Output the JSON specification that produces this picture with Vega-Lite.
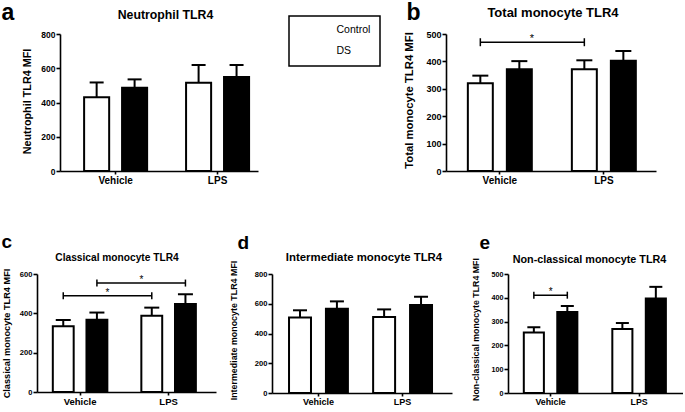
{
  "$schema": "https://vega.github.io/schema/vega-lite/v6.json",
  "background": "white",
  "padding": {"left": 1, "top": 1, "right": 0, "bottom": 0},
  "datasets": {
    "bars": [
      {"panel": "a", "treatment": "Vehicle", "group": "Control", "mean": 430, "upper": 517},
      {"panel": "a", "treatment": "Vehicle", "group": "DS", "mean": 486, "upper": 535},
      {"panel": "a", "treatment": "LPS", "group": "Control", "mean": 515, "upper": 619},
      {"panel": "a", "treatment": "LPS", "group": "DS", "mean": 549, "upper": 619},
      {"panel": "b", "treatment": "Vehicle", "group": "Control", "mean": 320, "upper": 348},
      {"panel": "b", "treatment": "Vehicle", "group": "DS", "mean": 371, "upper": 401},
      {"panel": "b", "treatment": "LPS", "group": "Control", "mean": 371, "upper": 404},
      {"panel": "b", "treatment": "LPS", "group": "DS", "mean": 402, "upper": 438},
      {"panel": "c", "treatment": "Vehicle", "group": "Control", "mean": 334, "upper": 366},
      {"panel": "c", "treatment": "Vehicle", "group": "DS", "mean": 368, "upper": 404},
      {"panel": "c", "treatment": "LPS", "group": "Control", "mean": 388, "upper": 429},
      {"panel": "c", "treatment": "LPS", "group": "DS", "mean": 448, "upper": 497},
      {"panel": "d", "treatment": "Vehicle", "group": "Control", "mean": 507, "upper": 556},
      {"panel": "d", "treatment": "Vehicle", "group": "DS", "mean": 567, "upper": 616},
      {"panel": "d", "treatment": "LPS", "group": "Control", "mean": 511, "upper": 562},
      {"panel": "d", "treatment": "LPS", "group": "DS", "mean": 591, "upper": 647},
      {"panel": "e", "treatment": "Vehicle", "group": "Control", "mean": 254, "upper": 276},
      {"panel": "e", "treatment": "Vehicle", "group": "DS", "mean": 340, "upper": 366},
      {"panel": "e", "treatment": "LPS", "group": "Control", "mean": 269, "upper": 294},
      {"panel": "e", "treatment": "LPS", "group": "DS", "mean": 397, "upper": 446}
    ],
    "brackets": [
      {"panel": "b", "id": "b1", "treatment": "Vehicle", "group": "Control", "y": 470},
      {"panel": "b", "id": "b1", "treatment": "LPS", "group": "Control", "y": 470},
      {"panel": "c", "id": "c1", "treatment": "Vehicle", "group": "Control", "y": 489},
      {"panel": "c", "id": "c1", "treatment": "LPS", "group": "Control", "y": 489},
      {"panel": "c", "id": "c2", "treatment": "Vehicle", "group": "DS", "y": 554},
      {"panel": "c", "id": "c2", "treatment": "LPS", "group": "DS", "y": 554},
      {"panel": "e", "id": "e1", "treatment": "Vehicle", "group": "Control", "y": 411},
      {"panel": "e", "id": "e1", "treatment": "Vehicle", "group": "DS", "y": 411}
    ],
    "stars": [
      {"panel": "b", "treatment": "Vehicle", "y": 470, "label": "*"},
      {"panel": "c", "treatment": "Vehicle", "y": 489, "label": "*"},
      {"panel": "c", "treatment": "LPS", "y": 554, "label": "*"},
      {"panel": "e", "treatment": "Vehicle", "y": 411, "label": "*"}
    ]
  },
  "columns": 1,
  "spacing": 47,
  "bounds": "full",
  "resolve": {"scale": {"xOffset": "independent", "fill": "independent"}, "legend": {"fill": "independent"}},
  "concat": [
    {
      "hconcat": [
        {"width": 1, "height": 1, "data": {"values": []}, "mark": {"type": "point", "opacity": 0}},
        {
          "hconcat": [
            {
              "width": 198, "height": 137,
              "resolve": {"axis": {"x": "independent", "y": "independent"}},
              "layer": [
                {
                  "data": {"name": "bars"}, "transform": [{"filter": "datum.panel === 'a'"}],
                  "mark": {"type": "bar", "stroke": "black", "strokeWidth": 2},
                  "encoding": {
                    "x": {"field": "treatment", "type": "nominal", "scale": {"domain": ["Vehicle", "LPS"], "paddingInner": 0.382, "paddingOuter": 0.162, "align": 0.73},
                          "axis": {"orient": "bottom", "title": null, "labelAngle": 0, "labelFontSize": 10}},
                    "xOffset": {"field": "group", "type": "nominal", "scale": {"domain": ["Control", "DS"], "paddingInner": 0.34, "paddingOuter": 0}},
                    "y": {"field": "mean", "type": "quantitative", "scale": {"domain": [0, 800], "nice": false},
                          "axis": {"values": [0, 200, 400, 600, 800], "labelOverlap": false, "title": "Neutrophil TLR4 MFI", "titleX": -33, "titleY": 67, "titleAlign": "center", "titleBaseline": "middle", "titleAngle": 270, "titleFontSize": 10.8, "labelFontSize": 8.5}},
                    "fill": {"field": "group", "type": "nominal", "scale": {"domain": ["Control", "DS"], "range": ["white", "black"]},
                             "legend": {"orient": "none", "legendX": 229, "legendY": -18, "title": null, "strokeColor": "black", "fillColor": "white", "padding": 9, "symbolSize": 9, "symbolOpacity": 0, "labelOffset": 28, "rowPadding": 10, "labelFontSize": 10.5, "labelFontWeight": "normal", "labelColor": "black", "labelFont": "Liberation Sans"}}
                  }
                },
                {
                  "data": {"name": "bars"}, "transform": [{"filter": "datum.panel === 'a'"}],
                  "mark": {"type": "rule", "color": "black", "strokeWidth": 2},
                  "encoding": {
                    "x": {"field": "treatment", "type": "nominal", "axis": {"orient": "top", "title": "a", "labels": false, "ticks": false, "domain": false, "titleX": -59, "titleY": -15, "titleAlign": "left", "titleBaseline": "alphabetic", "titleAngle": 0, "titleFontSize": 23}},
                    "xOffset": {"field": "group", "type": "nominal"},
                    "y": {"field": "mean", "type": "quantitative", "axis": null},
                    "y2": {"field": "upper"}
                  }
                },
                {
                  "data": {"name": "bars"}, "transform": [{"filter": "datum.panel === 'a'"}],
                  "mark": {"type": "tick", "color": "black", "size": 14, "thickness": 2, "opacity": 1},
                  "encoding": {
                    "x": {"field": "treatment", "type": "nominal", "axis": {"orient": "top", "title": "Neutrophil TLR4", "labels": false, "ticks": false, "domain": false, "titleX": 105, "titleY": -16, "titleAlign": "center", "titleBaseline": "alphabetic", "titleAngle": 0, "titleFontSize": 12.3}},
                    "xOffset": {"field": "group", "type": "nominal"},
                    "y": {"field": "upper", "type": "quantitative", "axis": null}
                  }
                }
              ]
            },
            {
              "width": 210, "height": 137,
              "resolve": {"axis": {"x": "independent", "y": "independent"}},
              "layer": [
                {
                  "data": {"name": "bars"}, "transform": [{"filter": "datum.panel === 'b'"}],
                  "mark": {"type": "bar", "stroke": "black", "strokeWidth": 2},
                  "encoding": {
                    "x": {"field": "treatment", "type": "nominal", "scale": {"domain": ["Vehicle", "LPS"], "paddingInner": 0.385, "paddingOuter": 0.202, "align": 0.52},
                          "axis": {"orient": "bottom", "title": null, "labelAngle": 0, "labelFontSize": 10}},
                    "xOffset": {"field": "group", "type": "nominal", "scale": {"domain": ["Control", "DS"], "paddingInner": 0.36, "paddingOuter": 0}},
                    "y": {"field": "mean", "type": "quantitative", "scale": {"domain": [0, 500], "nice": false},
                          "axis": {"values": [0, 100, 200, 300, 400, 500], "labelOverlap": false, "title": "Total monocyte TLR4 MFI", "titleX": -36.5, "titleY": 66, "titleAlign": "center", "titleBaseline": "middle", "titleAngle": 270, "titleFontSize": 11.3, "labelFontSize": 9}},
                    "fill": {"field": "group", "type": "nominal", "scale": {"domain": ["Control", "DS"], "range": ["white", "black"]}, "legend": null}
                  }
                },
                {
                  "data": {"name": "bars"}, "transform": [{"filter": "datum.panel === 'b'"}],
                  "mark": {"type": "rule", "color": "black", "strokeWidth": 2},
                  "encoding": {
                    "x": {"field": "treatment", "type": "nominal", "axis": {"orient": "top", "title": "b", "labels": false, "ticks": false, "domain": false, "titleX": -40, "titleY": -15, "titleAlign": "left", "titleBaseline": "alphabetic", "titleAngle": 0, "titleFontSize": 23}},
                    "xOffset": {"field": "group", "type": "nominal"},
                    "y": {"field": "mean", "type": "quantitative", "axis": null},
                    "y2": {"field": "upper"}
                  }
                },
                {
                  "data": {"name": "bars"}, "transform": [{"filter": "datum.panel === 'b'"}],
                  "mark": {"type": "tick", "color": "black", "size": 16, "thickness": 2, "opacity": 1},
                  "encoding": {
                    "x": {"field": "treatment", "type": "nominal", "axis": {"orient": "top", "title": "Total monocyte TLR4", "labels": false, "ticks": false, "domain": false, "titleX": 106.5, "titleY": -18, "titleAlign": "center", "titleBaseline": "alphabetic", "titleAngle": 0, "titleFontSize": 13}},
                    "xOffset": {"field": "group", "type": "nominal"},
                    "y": {"field": "upper", "type": "quantitative", "axis": null}
                  }
                },
                {
                  "data": {"name": "brackets"}, "transform": [{"filter": "datum.panel === 'b'"}],
                  "mark": {"type": "line", "color": "black", "strokeWidth": 1.5},
                  "encoding": {
                    "x": {"field": "treatment", "type": "nominal", "axis": null},
                    "xOffset": {"field": "group", "type": "nominal"},
                    "y": {"field": "y", "type": "quantitative", "axis": null},
                    "detail": {"field": "id"}
                  }
                },
                {
                  "data": {"name": "brackets"}, "transform": [{"filter": "datum.panel === 'b'"}],
                  "mark": {"type": "point", "shape": "M0,-1L0,1", "size": 64, "filled": false, "color": "black", "strokeWidth": 1.5, "opacity": 1},
                  "encoding": {
                    "x": {"field": "treatment", "type": "nominal", "axis": null},
                    "xOffset": {"field": "group", "type": "nominal"},
                    "y": {"field": "y", "type": "quantitative", "axis": null}
                  }
                },
                {
                  "data": {"name": "stars"}, "transform": [{"filter": "datum.panel === 'b'"}],
                  "mark": {"type": "text", "fontSize": 11, "color": "black", "baseline": "alphabetic", "align": "center"},
                  "encoding": {
                    "x": {"field": "treatment", "type": "nominal", "bandPosition": 1, "axis": null},
                    "y": {"field": "y", "type": "quantitative", "axis": null},
                    "text": {"field": "label"}
                  }
                }
              ]
            }
          ],
          "spacing": 188,
          "bounds": "flush",
          "resolve": {"scale": {"xOffset": "independent", "fill": "independent"}, "legend": {"fill": "independent"}}
        }
      ],
      "spacing": 22,
      "bounds": "flush",
      "resolve": {"scale": {"xOffset": "independent", "fill": "independent"}, "legend": {"fill": "independent"}}
    },
    {
      "hconcat": [
        {
          "width": 179, "height": 118,
          "resolve": {"axis": {"x": "independent", "y": "independent"}},
          "layer": [
            {
              "data": {"name": "bars"}, "transform": [{"filter": "datum.panel === 'c'"}],
              "mark": {"type": "bar", "stroke": "black", "strokeWidth": 2},
              "encoding": {
                "x": {"field": "treatment", "type": "nominal", "scale": {"domain": ["Vehicle", "LPS"], "paddingInner": 0.384, "paddingOuter": 0.203, "align": 0.44},
                      "axis": {"orient": "bottom", "title": null, "labelAngle": 0, "labelFontSize": 9.5}},
                "xOffset": {"field": "group", "type": "nominal", "scale": {"domain": ["Control", "DS"], "paddingInner": 0.38, "paddingOuter": 0}},
                "y": {"field": "mean", "type": "quantitative", "scale": {"domain": [0, 600], "nice": false},
                      "axis": {"values": [0, 200, 400, 600], "labelOverlap": false, "title": "Classical monocyte TLR4 MFI", "titleX": -31, "titleY": 59, "titleAlign": "center", "titleBaseline": "middle", "titleAngle": 270, "titleFontSize": 9.2, "labelFontSize": 7.6}},
                "fill": {"field": "group", "type": "nominal", "scale": {"domain": ["Control", "DS"], "range": ["white", "black"]}, "legend": null}
              }
            },
            {
              "data": {"name": "bars"}, "transform": [{"filter": "datum.panel === 'c'"}],
              "mark": {"type": "rule", "color": "black", "strokeWidth": 2},
              "encoding": {
                "x": {"field": "treatment", "type": "nominal", "axis": {"orient": "top", "title": "c", "labels": false, "ticks": false, "domain": false, "titleX": -36, "titleY": -27, "titleAlign": "left", "titleBaseline": "alphabetic", "titleAngle": 0, "titleFontSize": 19}},
                "xOffset": {"field": "group", "type": "nominal"},
                "y": {"field": "mean", "type": "quantitative", "axis": null},
                "y2": {"field": "upper"}
              }
            },
            {
              "data": {"name": "bars"}, "transform": [{"filter": "datum.panel === 'c'"}],
              "mark": {"type": "tick", "color": "black", "size": 15, "thickness": 2, "opacity": 1},
              "encoding": {
                "x": {"field": "treatment", "type": "nominal", "axis": {"orient": "top", "title": "Classical monocyte TLR4", "labels": false, "ticks": false, "domain": false, "titleX": 79.5, "titleY": -13.7, "titleAlign": "center", "titleBaseline": "alphabetic", "titleAngle": 0, "titleFontSize": 10.2}},
                "xOffset": {"field": "group", "type": "nominal"},
                "y": {"field": "upper", "type": "quantitative", "axis": null}
              }
            },
            {
              "data": {"name": "brackets"}, "transform": [{"filter": "datum.panel === 'c'"}],
              "mark": {"type": "line", "color": "black", "strokeWidth": 1.5},
              "encoding": {
                "x": {"field": "treatment", "type": "nominal", "axis": null},
                "xOffset": {"field": "group", "type": "nominal"},
                "y": {"field": "y", "type": "quantitative", "axis": null},
                "detail": {"field": "id"}
              }
            },
            {
              "data": {"name": "brackets"}, "transform": [{"filter": "datum.panel === 'c'"}],
              "mark": {"type": "point", "shape": "M0,-1L0,1", "size": 49, "filled": false, "color": "black", "strokeWidth": 1.5, "opacity": 1},
              "encoding": {
                "x": {"field": "treatment", "type": "nominal", "axis": null},
                "xOffset": {"field": "group", "type": "nominal"},
                "y": {"field": "y", "type": "quantitative", "axis": null}
              }
            },
            {
              "data": {"name": "stars"}, "transform": [{"filter": "datum.panel === 'c' && datum.treatment === 'Vehicle'"}],
              "mark": {"type": "text", "fontSize": 10, "color": "black", "baseline": "alphabetic", "align": "center"},
              "encoding": {
                "x": {"field": "treatment", "type": "nominal", "bandPosition": 1, "axis": null},
                "y": {"field": "y", "type": "quantitative", "axis": null},
                "text": {"field": "label"}
              }
            },
            {
              "data": {"name": "stars"}, "transform": [{"filter": "datum.panel === 'c' && datum.treatment === 'LPS'"}],
              "mark": {"type": "text", "fontSize": 10, "color": "black", "baseline": "alphabetic", "align": "center"},
              "encoding": {
                "x": {"field": "treatment", "type": "nominal", "bandPosition": 0, "axis": null},
                "y": {"field": "y", "type": "quantitative", "axis": null},
                "text": {"field": "label"}
              }
            }
          ]
        },
        {
          "width": 180, "height": 119,
          "resolve": {"axis": {"x": "independent", "y": "independent"}},
          "layer": [
            {
              "data": {"name": "bars"}, "transform": [{"filter": "datum.panel === 'd'"}],
              "mark": {"type": "bar", "stroke": "black", "strokeWidth": 2},
              "encoding": {
                "x": {"field": "treatment", "type": "nominal", "scale": {"domain": ["Vehicle", "LPS"], "paddingInner": 0.30, "paddingOuter": 0.22, "align": 0.46},
                      "axis": {"orient": "bottom", "title": null, "labelAngle": 0, "labelFontSize": 9}},
                "xOffset": {"field": "group", "type": "nominal", "scale": {"domain": ["Control", "DS"], "paddingInner": 0.405, "paddingOuter": 0}},
                "y": {"field": "mean", "type": "quantitative", "scale": {"domain": [0, 800], "nice": false},
                      "axis": {"values": [0, 200, 400, 600, 800], "labelOverlap": false, "title": "Intermediate monocyte TLR4 MFI", "titleX": -38.5, "titleY": 56, "titleAlign": "center", "titleBaseline": "middle", "titleAngle": 270, "titleFontSize": 8.9, "labelFontSize": 7.6}},
                "fill": {"field": "group", "type": "nominal", "scale": {"domain": ["Control", "DS"], "range": ["white", "black"]}, "legend": null}
              }
            },
            {
              "data": {"name": "bars"}, "transform": [{"filter": "datum.panel === 'd'"}],
              "mark": {"type": "rule", "color": "black", "strokeWidth": 2},
              "encoding": {
                "x": {"field": "treatment", "type": "nominal", "axis": {"orient": "top", "title": "d", "labels": false, "ticks": false, "domain": false, "titleX": -35, "titleY": -26, "titleAlign": "left", "titleBaseline": "alphabetic", "titleAngle": 0, "titleFontSize": 19}},
                "xOffset": {"field": "group", "type": "nominal"},
                "y": {"field": "mean", "type": "quantitative", "axis": null},
                "y2": {"field": "upper"}
              }
            },
            {
              "data": {"name": "bars"}, "transform": [{"filter": "datum.panel === 'd'"}],
              "mark": {"type": "tick", "color": "black", "size": 14, "thickness": 2, "opacity": 1},
              "encoding": {
                "x": {"field": "treatment", "type": "nominal", "axis": {"orient": "top", "title": "Intermediate monocyte TLR4", "labels": false, "ticks": false, "domain": false, "titleX": 91.5, "titleY": -14, "titleAlign": "center", "titleBaseline": "alphabetic", "titleAngle": 0, "titleFontSize": 11.4}},
                "xOffset": {"field": "group", "type": "nominal"},
                "y": {"field": "upper", "type": "quantitative", "axis": null}
              }
            }
          ]
        },
        {
          "width": 175, "height": 119,
          "resolve": {"axis": {"x": "independent", "y": "independent"}},
          "layer": [
            {
              "data": {"name": "bars"}, "transform": [{"filter": "datum.panel === 'e'"}],
              "mark": {"type": "bar", "stroke": "black", "strokeWidth": 2},
              "encoding": {
                "x": {"field": "treatment", "type": "nominal", "scale": {"domain": ["Vehicle", "LPS"], "paddingInner": 0.395, "paddingOuter": 0.186, "align": 0.48},
                      "axis": {"orient": "bottom", "title": null, "labelAngle": 0, "labelFontSize": 8.8}},
                "xOffset": {"field": "group", "type": "nominal", "scale": {"domain": ["Control", "DS"], "paddingInner": 0.40, "paddingOuter": 0}},
                "y": {"field": "mean", "type": "quantitative", "scale": {"domain": [0, 500], "nice": false},
                      "axis": {"values": [0, 100, 200, 300, 400, 500], "labelOverlap": false, "title": "Non-classical monocyte TLR4 MFI", "titleX": -33, "titleY": 55, "titleAlign": "center", "titleBaseline": "middle", "titleAngle": 270, "titleFontSize": 8.8, "labelFontSize": 7.2}},
                "fill": {"field": "group", "type": "nominal", "scale": {"domain": ["Control", "DS"], "range": ["white", "black"]}, "legend": null}
              }
            },
            {
              "data": {"name": "bars"}, "transform": [{"filter": "datum.panel === 'e'"}],
              "mark": {"type": "rule", "color": "black", "strokeWidth": 2},
              "encoding": {
                "x": {"field": "treatment", "type": "nominal", "axis": {"orient": "top", "title": "e", "labels": false, "ticks": false, "domain": false, "titleX": -29, "titleY": -26, "titleAlign": "left", "titleBaseline": "alphabetic", "titleAngle": 0, "titleFontSize": 19}},
                "xOffset": {"field": "group", "type": "nominal"},
                "y": {"field": "mean", "type": "quantitative", "axis": null},
                "y2": {"field": "upper"}
              }
            },
            {
              "data": {"name": "bars"}, "transform": [{"filter": "datum.panel === 'e'"}],
              "mark": {"type": "tick", "color": "black", "size": 13, "thickness": 2, "opacity": 1},
              "encoding": {
                "x": {"field": "treatment", "type": "nominal", "axis": {"orient": "top", "title": "Non-classical monocyte TLR4", "labels": false, "ticks": false, "domain": false, "titleX": 81, "titleY": -11.3, "titleAlign": "center", "titleBaseline": "alphabetic", "titleAngle": 0, "titleFontSize": 10.8}},
                "xOffset": {"field": "group", "type": "nominal"},
                "y": {"field": "upper", "type": "quantitative", "axis": null}
              }
            },
            {
              "data": {"name": "brackets"}, "transform": [{"filter": "datum.panel === 'e'"}],
              "mark": {"type": "line", "color": "black", "strokeWidth": 1.5},
              "encoding": {
                "x": {"field": "treatment", "type": "nominal", "axis": null},
                "xOffset": {"field": "group", "type": "nominal"},
                "y": {"field": "y", "type": "quantitative", "axis": null},
                "detail": {"field": "id"}
              }
            },
            {
              "data": {"name": "brackets"}, "transform": [{"filter": "datum.panel === 'e'"}],
              "mark": {"type": "point", "shape": "M0,-1L0,1", "size": 49, "filled": false, "color": "black", "strokeWidth": 1.5, "opacity": 1},
              "encoding": {
                "x": {"field": "treatment", "type": "nominal", "axis": null},
                "xOffset": {"field": "group", "type": "nominal"},
                "y": {"field": "y", "type": "quantitative", "axis": null}
              }
            },
            {
              "data": {"name": "stars"}, "transform": [{"filter": "datum.panel === 'e'"}],
              "mark": {"type": "text", "fontSize": 10, "color": "black", "baseline": "alphabetic", "align": "center"},
              "encoding": {
                "x": {"field": "treatment", "type": "nominal", "bandPosition": 0.5, "axis": null},
                "y": {"field": "y", "type": "quantitative", "axis": null},
                "text": {"field": "label"}
              }
            }
          ]
        }
      ],
      "spacing": 56,
      "bounds": "flush",
      "resolve": {"scale": {"xOffset": "independent", "fill": "independent"}, "legend": {"fill": "independent"}}
    }
  ],
  "config": {
    "font": "Liberation Sans",
    "view": {"stroke": null},
    "axis": {"domainColor": "black", "domainWidth": 1.6, "tickColor": "black", "tickWidth": 1.6, "tickSize": 4, "labelColor": "black", "labelFontWeight": "bold", "labelFont": "Liberation Sans", "titleColor": "black", "titleFontWeight": "bold", "titleFont": "Liberation Sans", "grid": false, "labelPadding": 1, "labelOverlap": false},
    "axisX": {"tickSize": 3},
    "legend": {"strokeWidth": 1.5}
  }
}
